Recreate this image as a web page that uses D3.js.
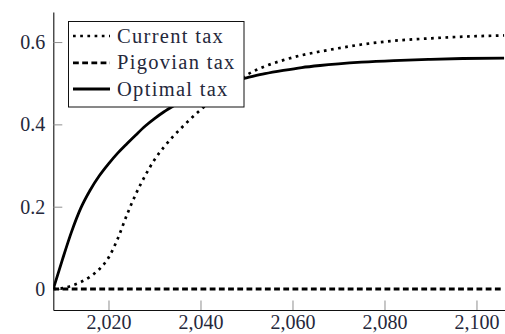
<!DOCTYPE html>
<html>
<head>
<meta charset="utf-8">
<script src="https://cdn.jsdelivr.net/npm/d3@7/dist/d3.min.js"></script>
<style>
  html, body { margin: 0; padding: 0; background: #fff; }
  svg { display: block; }
  text { font-family: "Liberation Serif", serif; fill: #25283b; }
</style>
</head>
<body>
<svg id="chart" width="505" height="334"></svg>
<script>
// Tax paths over time (estimated values)
const years = [2008, 2010, 2012, 2014, 2016, 2018, 2020, 2022, 2024, 2026, 2028, 2030,
               2032, 2034, 2036, 2038, 2040, 2044, 2048, 2050, 2054, 2058, 2062, 2066,
               2070, 2075, 2082, 2090, 2097, 2106];
const currentTax = [0, 0.002, 0.008, 0.017, 0.03, 0.048, 0.076, 0.122, 0.18, 0.232, 0.276, 0.314,
                    0.344, 0.37, 0.393, 0.415, 0.435, 0.473, 0.506, 0.52, 0.541, 0.556, 0.568, 0.577,
                    0.585, 0.594, 0.603, 0.609, 0.613, 0.616];
const pigovianTax = [0, 0, 0, 0, 0, 0, 0, 0, 0, 0, 0, 0,
                     0, 0, 0, 0, 0, 0, 0, 0, 0, 0, 0, 0,
                     0, 0, 0, 0, 0, 0];
const optimalTax = [0, 0.072, 0.14, 0.197, 0.24, 0.275, 0.304, 0.33, 0.353, 0.375, 0.396, 0.414,
                    0.43, 0.444, 0.457, 0.468, 0.478, 0.495, 0.508, 0.513, 0.523, 0.531, 0.538, 0.543,
                    0.547, 0.551, 0.555, 0.558, 0.56, 0.561];

const seriesNames = ["Current tax", "Pigovian tax", "Optimal tax"];
const xTicks = [2020, 2040, 2060, 2080, 2100];
const yTicks = [0, 0.2, 0.4, 0.6];

const styles = [
  { width: 2.7, dash: "2.7,4.5" },
  { width: 2.8, dash: "5.8,3.4" },
  { width: 2.8, dash: null }
];

const svg = d3.select("#chart");
const plotLeft = 53.3, plotRight = 505, plotTop = 12, plotBottom = 310;

const x = d3.scaleLinear().domain([2008, 2106.2]).range([plotLeft, plotRight]);
const y = d3.scaleLinear().domain([-0.051, 0.673]).range([plotBottom, plotTop]);

svg.append("defs").append("clipPath").attr("id", "plot-clip")
  .append("rect").attr("x", plotLeft).attr("y", plotTop)
  .attr("width", plotRight - plotLeft).attr("height", plotBottom - plotTop);

// Axes: ticks point inward, labels outside
const xAxis = d3.axisBottom(x).tickValues(xTicks).tickFormat(d3.format(","))
  .tickSizeInner(-9.5).tickSizeOuter(0).tickPadding(0);
const yAxis = d3.axisLeft(y).tickValues(yTicks).tickFormat(d => d === 0 ? "0" : d3.format(".1f")(d))
  .tickSizeInner(-9).tickSizeOuter(0).tickPadding(8);

const gx = svg.append("g").attr("transform", `translate(0,${plotBottom})`).call(xAxis);
const gy = svg.append("g").attr("transform", `translate(${plotLeft},0)`).call(yAxis);

[gx, gy].forEach(g => {
  g.attr("font-family", null);
  g.select(".domain").attr("stroke", "#111").attr("stroke-width", 1.1);
  g.selectAll(".tick line").attr("stroke", "#8f8f8f").attr("stroke-width", 1);
  g.selectAll(".tick text").style("font-family", "'Liberation Serif', serif")
    .attr("font-size", 20).attr("fill", "#25283b");
});
gx.selectAll(".tick text").attr("y", 19).attr("dy", "0");

// Curves
const series = [currentTax, pigovianTax, optimalTax];
const line = d3.line()
  .x(d => x(d[0]))
  .y(d => y(d[1]))
  .curve(d3.curveMonotoneX);

const plot = svg.append("g").attr("clip-path", "url(#plot-clip)");
series.forEach((vals, i) => {
  plot.append("path")
    .datum(years.map((yr, j) => [yr, vals[j]]))
    .attr("d", line)
    .attr("fill", "none")
    .attr("stroke", "#000")
    .attr("stroke-width", styles[i].width)
    .attr("stroke-dasharray", styles[i].dash)
    .attr("stroke-linejoin", "round");
});

// Legend
const lg = svg.append("g");
lg.append("rect")
  .attr("x", 68.5).attr("y", 21.5).attr("width", 175.5).attr("height", 85.5)
  .attr("fill", "#fff").attr("stroke", "#111").attr("stroke-width", 1);
const rowY = [36, 62.8, 89];
seriesNames.forEach((name, i) => {
  lg.append("line")
    .attr("x1", 73).attr("x2", 110).attr("y1", rowY[i]).attr("y2", rowY[i])
    .attr("stroke", "#000").attr("stroke-width", styles[i].width)
    .attr("stroke-dasharray", styles[i].dash);
  lg.append("text")
    .attr("x", 117).attr("y", rowY[i] + 6.6)
    .style("font-family", "'Liberation Serif', serif")
    .attr("font-size", 20.5)
    .attr("letter-spacing", 1.3)
    .text(name);
});
</script>
</body>
</html>
